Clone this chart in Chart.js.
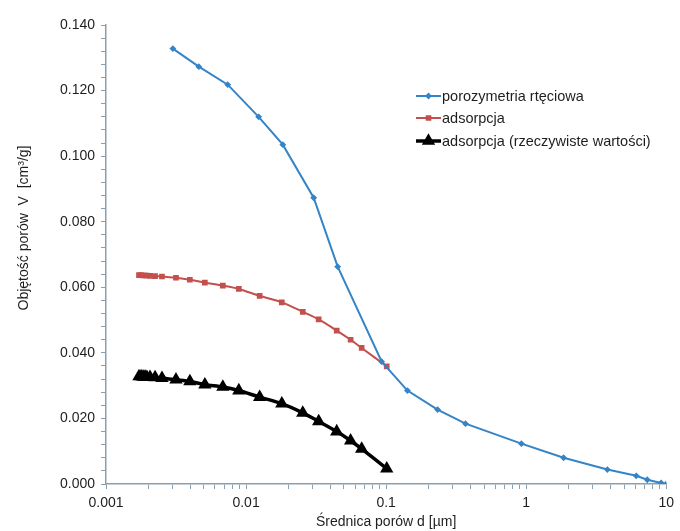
<!DOCTYPE html>
<html>
<head>
<meta charset="utf-8">
<script src="https://cdn.jsdelivr.net/npm/chart.js@4/dist/chart.umd.min.js"></script>
<style>
  html, body { margin: 0; padding: 0; background: #fff; }
  #wrap { width: 680px; height: 531px; }
</style>
</head>
<body>
<div id="wrap"><canvas id="poreChart" width="680" height="531"></canvas></div>
<script>
// porozymetria rtęciowa
const diamHg = [0.0030, 0.0046, 0.0074, 0.0123, 0.0183, 0.0304, 0.0451, 0.093, 0.142, 0.233, 0.369, 0.925, 1.85, 3.80, 6.11, 7.32, 9.2, 10.0];
const volHg = [0.1328, 0.1273, 0.1218, 0.1120, 0.1035, 0.0873, 0.0663, 0.0373, 0.0285, 0.0227, 0.0184, 0.0123, 0.0080, 0.0044, 0.0025, 0.0013, 0.0003, 0.0];

// adsorpcja: same diameters for both curves
const diamAds = [0.00172, 0.00178, 0.00184, 0.0019, 0.00196, 0.00206, 0.00224, 0.00251, 0.00316, 0.00397, 0.00508, 0.00683, 0.00888, 0.0125, 0.018, 0.0254, 0.033, 0.0444, 0.0558, 0.0669, 0.101];
const volAds = [0.0637, 0.0637, 0.0636, 0.0636, 0.0636, 0.0635, 0.0634, 0.0633, 0.0629, 0.0623, 0.0614, 0.0605, 0.0595, 0.0574, 0.0554, 0.0525, 0.0502, 0.0468, 0.0440, 0.0415, 0.0359];
const volAdsReal = [0.0328, 0.0328, 0.0327, 0.0327, 0.0326, 0.0326, 0.0325, 0.0323, 0.0318, 0.0313, 0.0303, 0.0296, 0.0285, 0.0265, 0.0245, 0.0217, 0.0191, 0.0160, 0.0132, 0.0107, 0.0047];

const seriesNames = ["porozymetria rtęciowa", "adsorpcja", "adsorpcja (rzeczywiste wartości)"];
const xDecades = [0.001, 0.01, 0.1, 1, 10];
const yMax = 0.14, yMajor = 0.02, yMinor = 0.004;

const FONT = "'Liberation Sans', Arial, sans-serif";
const axisColor = "#8c9fb1";
const textColor = "#1e1e1e";

const toPts = (xs, ys) => xs.map((x, i) => ({ x: x, y: ys[i] }));

// axis title on the left and the legend box, drawn over the chart
const extras = {
  id: "extras",
  afterDraw(chart) {
    const ctx = chart.ctx;
    ctx.save();
    ctx.fillStyle = textColor;
    ctx.font = "14px " + FONT;
    ctx.textAlign = "center";
    ctx.textBaseline = "middle";
    ctx.translate(24, 228);
    ctx.rotate(-Math.PI / 2);
    ctx.fillText("Objętość porów  V  [cm³/g]", 0, 0);
    ctx.restore();

    const rows = [96, 118, 141];
    chart.data.datasets.forEach((ds, i) => {
      const y = rows[i];
      ctx.save();
      ctx.strokeStyle = ds.borderColor;
      ctx.lineWidth = ds.borderWidth;
      ctx.beginPath();
      ctx.moveTo(416, y);
      ctx.lineTo(441, y);
      ctx.stroke();
      ctx.fillStyle = ds.pointBackgroundColor;
      ctx.strokeStyle = ds.borderColor;
      Chart.helpers.drawPoint(ctx, {
        pointStyle: ds.pointStyle,
        radius: ds.pointRadius,
        rotation: 0,
        borderWidth: 1
      }, 428.5, y);
      ctx.fillStyle = textColor;
      ctx.font = "14.5px " + FONT;
      ctx.textAlign = "left";
      ctx.textBaseline = "middle";
      ctx.fillText(ds.label, 442, y + 1);
      ctx.restore();
    });
  }
};

new Chart(document.getElementById("poreChart"), {
  type: "scatter",
  data: {
    datasets: [
      {
        label: seriesNames[0],
        data: toPts(diamHg, volHg),
        showLine: true,
        borderColor: "rgb(52,132,200)",
        pointBackgroundColor: "rgb(52,132,200)",
        borderWidth: 2,
        pointStyle: "rectRot",
        pointRadius: 2,
        tension: 0
      },
      {
        label: seriesNames[1],
        data: toPts(diamAds, volAds),
        showLine: true,
        borderColor: "rgb(196,80,77)",
        pointBackgroundColor: "rgb(196,80,77)",
        borderWidth: 2,
        pointStyle: "rect",
        pointRadius: 2.6,
        tension: 0.3
      },
      {
        label: seriesNames[2],
        data: toPts(diamAds, volAdsReal),
        showLine: true,
        borderColor: "#000",
        pointBackgroundColor: "#000",
        borderWidth: 3.5,
        pointStyle: "triangle",
        pointRadius: 4.2,
        tension: 0.3
      }
    ]
  },
  options: {
    responsive: false,
    animation: false,
    layout: { padding: { left: 0, right: 13, top: 25, bottom: 0 } },
    plugins: {
      legend: { display: false },
      tooltip: { enabled: false }
    },
    scales: {
      x: {
        type: "logarithmic",
        min: 0.001,
        max: 10,
        border: { color: axisColor, width: 1.5 },
        grid: { drawOnChartArea: false, color: axisColor, tickLength: 5 },
        afterBuildTicks(scale) {
          const t = [];
          xDecades.forEach((d, i) => {
            if (i === xDecades.length - 1) { t.push({ value: d }); return; }
            for (let m = 1; m <= 9; m++) t.push({ value: +(d * m).toPrecision(3) });
          });
          scale.ticks = t;
        },
        afterFit(scale) { scale.height = 47; },
        ticks: {
          autoSkip: false,
          maxRotation: 0,
          padding: 6,
          color: textColor,
          font: { family: FONT, size: 14 },
          callback: (v) => xDecades.includes(v) ? String(v) : ""
        },
        title: {
          display: true,
          text: "Średnica porów d [µm]",
          color: textColor,
          font: { family: FONT, size: 14 },
          padding: { top: 0, bottom: 0 }
        }
      },
      y: {
        min: 0,
        max: yMax,
        border: { color: axisColor, width: 1.5 },
        grid: { drawOnChartArea: false, color: axisColor, tickLength: 5 },
        afterBuildTicks(scale) {
          const t = [];
          for (let v = 0; v <= yMax + 1e-9; v += yMinor) t.push({ value: +v.toFixed(3) });
          scale.ticks = t;
        },
        afterFit(scale) { scale.width = 106; },
        ticks: {
          autoSkip: false,
          padding: 6,
          color: textColor,
          font: { family: FONT, size: 14 },
          callback: (v) => Math.abs(v / yMajor - Math.round(v / yMajor)) < 1e-6 ? v.toFixed(3) : ""
        }
      }
    }
  },
  plugins: [extras]
});
</script>
</body>
</html>
